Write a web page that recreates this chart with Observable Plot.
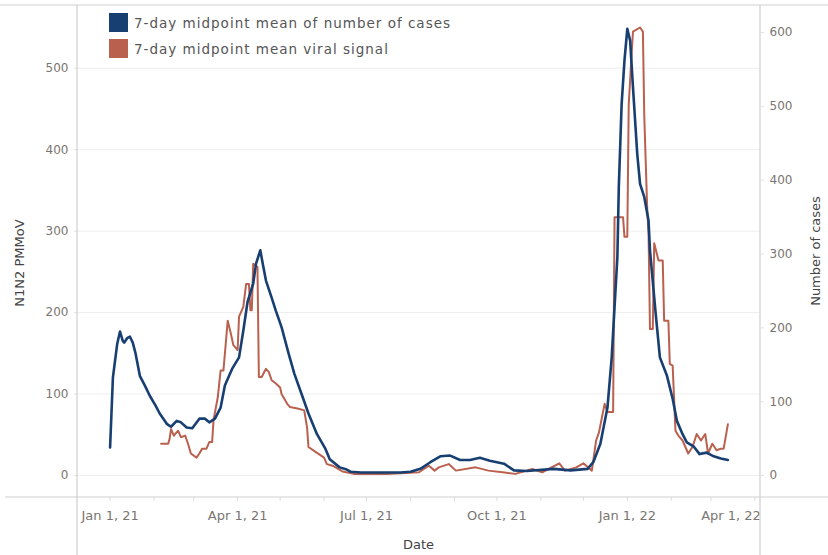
<!DOCTYPE html>
<html><head><meta charset="utf-8">
<script src="https://cdn.jsdelivr.net/npm/d3@7"></script>
<script src="https://cdn.jsdelivr.net/npm/@observablehq/plot@0.6"></script>
<style>
body{margin:0;background:#fff;}
#wrap{position:relative;width:828px;height:555px;font-family:"DejaVu Sans",sans-serif;}
#legend{position:absolute;left:109px;top:13px;font-size:13.5px;color:#555;letter-spacing:1px;}
.item{display:flex;align-items:center;height:19px;margin-bottom:7px;white-space:nowrap;}
.sw{width:19px;height:19px;margin-right:6px;flex:none;}
</style></head><body><div id="wrap"></div>
<script>
const seriesNames = ["7-day midpoint mean of number of cases", "7-day midpoint mean viral signal"];
const seriesColors = ["#173f72", "#b9604e"];
const leftTicks = [0, 100, 200, 300, 400, 500];
const rightTicks = [0, 100, 200, 300, 400, 500, 600];
const xTickDates = ["2021-01-01", "2021-04-01", "2021-07-01", "2021-10-01", "2022-01-01"];
const xLastTickDate = "2022-04-01";

const caseDates = ["2021-01-01","2021-01-03","2021-01-06","2021-01-08","2021-01-10","2021-01-11","2021-01-13","2021-01-15","2021-01-17","2021-01-19","2021-01-22","2021-01-26","2021-01-29","2021-02-02","2021-02-05","2021-02-10","2021-02-13","2021-02-17","2021-02-20","2021-02-24","2021-02-28","2021-03-05","2021-03-09","2021-03-12","2021-03-16","2021-03-20","2021-03-23","2021-03-28","2021-04-02","2021-04-05","2021-04-08","2021-04-12","2021-04-14","2021-04-17","2021-04-19","2021-04-21","2021-04-25","2021-04-28","2021-05-02","2021-05-07","2021-05-11","2021-05-16","2021-05-21","2021-05-27","2021-06-02","2021-06-05","2021-06-12","2021-06-17","2021-06-20","2021-06-27","2021-07-10","2021-07-25","2021-08-01","2021-08-08","2021-08-15","2021-08-22","2021-08-29","2021-09-05","2021-09-12","2021-09-19","2021-09-26","2021-10-06","2021-10-13","2021-10-22","2021-11-10","2021-11-22","2021-12-04","2021-12-08","2021-12-13","2021-12-18","2021-12-21","2021-12-23","2021-12-25","2021-12-26","2021-12-28","2021-12-30","2022-01-01","2022-01-03","2022-01-05","2022-01-08","2022-01-10","2022-01-13","2022-01-16","2022-01-17","2022-01-21","2022-01-24","2022-01-29","2022-02-02","2022-02-05","2022-02-09","2022-02-12","2022-02-17","2022-02-21","2022-02-26","2022-03-03","2022-03-08","2022-03-13"];
const caseValues = [38,133,178,195,182,180,186,188,180,165,135,120,108,95,84,70,66,74,72,65,64,77,77,72,77,92,122,144,160,196,235,260,287,305,284,264,241,223,201,165,138,111,84,56,36,22,11,8,5,4,4,4,5,9,18,26,27,21,21,24,20,16,7,6,9,7,9,18,43,92,160,228,296,390,503,562,605,589,526,436,395,377,345,305,220,160,135,104,74,56,45,39,29,31,26,23,21];

const signalDates = ["2021-02-06","2021-02-11","2021-02-12","2021-02-13","2021-02-15","2021-02-18","2021-02-20","2021-02-23","2021-02-25","2021-02-27","2021-03-03","2021-03-05","2021-03-07","2021-03-10","2021-03-12","2021-03-14","2021-03-15","2021-03-18","2021-03-20","2021-03-22","2021-03-25","2021-03-27","2021-03-29","2021-04-01","2021-04-02","2021-04-05","2021-04-07","2021-04-09","2021-04-10","2021-04-11","2021-04-12","2021-04-15","2021-04-16","2021-04-18","2021-04-21","2021-04-23","2021-04-25","2021-04-28","2021-05-01","2021-05-02","2021-05-06","2021-05-08","2021-05-14","2021-05-18","2021-05-20","2021-05-21","2021-05-26","2021-06-01","2021-06-03","2021-06-07","2021-06-14","2021-06-22","2021-07-15","2021-08-07","2021-08-14","2021-08-18","2021-08-21","2021-08-28","2021-09-02","2021-09-16","2021-09-25","2021-10-05","2021-10-14","2021-10-26","2021-11-02","2021-11-14","2021-11-18","2021-11-26","2021-12-01","2021-12-07","2021-12-10","2021-12-12","2021-12-16","2021-12-18","2021-12-22","2021-12-23","2021-12-29","2021-12-30","2022-01-01","2022-01-02","2022-01-04","2022-01-05","2022-01-10","2022-01-12","2022-01-13","2022-01-15","2022-01-16","2022-01-17","2022-01-19","2022-01-20","2022-01-23","2022-01-26","2022-01-27","2022-01-30","2022-01-31","2022-02-02","2022-02-04","2022-02-06","2022-02-09","2022-02-13","2022-02-16","2022-02-19","2022-02-22","2022-02-25","2022-02-27","2022-03-02","2022-03-05","2022-03-08","2022-03-10","2022-03-13"];
const signalValues = [39,39,45,57,49,55,47,49,39,27,22,27,33,33,41,41,68,96,129,129,190,176,160,154,195,207,235,235,203,203,260,256,121,121,131,127,117,113,108,100,88,84,82,80,59,35,29,22,14,12,5,2,2,4,12,6,10,14,6,10,6,4,2,8,4,15,6,10,15,6,43,53,88,78,78,317,317,293,293,455,516,545,550,545,440,330,297,180,180,285,264,264,190,190,137,135,55,49,43,27,35,51,43,51,27,39,31,33,33,63];

const parse = d3.utcParse("%Y-%m-%d");
const cases = caseDates.map((d, i) => ({date: parse(d), value: caseValues[i]}));
const signal = signalDates.map((d, i) => ({date: parse(d), value: signalValues[i]}));

const leftDomain = [-27, 577];
const rightDomain = [-29.8, 636.6];
const ratio = (leftDomain[1] - leftDomain[0]) / (rightDomain[1] - rightDomain[0]);
const toLeft = c => leftDomain[0] + (c - rightDomain[0]) * ratio;
const fromLeft = v => rightDomain[0] + (v - leftDomain[0]) / ratio;

const xDomain = [parse("2020-12-09"), parse("2022-04-05")];
const months = d3.utcMonth.range(parse("2021-01-01"), parse("2022-04-02"));
const fmt = d3.utcFormat("%b %-d, %y");
const tickGray = "#7a7570";

const chart = Plot.plot({
  width: 828, height: 555,
  marginLeft: 77, marginRight: 68, marginTop: 5, marginBottom: 58,
  style: {fontFamily: "DejaVu Sans, sans-serif", fontSize: "12px", background: "#fff"},
  x: {type: "utc", domain: xDomain},
  y: {domain: leftDomain},
  marks: [
    Plot.gridY(leftTicks, {stroke: "#eeeeee", strokeOpacity: 1}),
    Plot.axisY(leftTicks, {anchor: "left", label: null, tickSize: 3, tickPadding: 6, stroke: "#e2e2e2", fill: tickGray, fontSize: 12}),
    Plot.axisY(rightTicks.map(toLeft), {anchor: "right", label: null, tickSize: 3, tickPadding: 6, stroke: "#e2e2e2", fill: tickGray, fontSize: 12, tickFormat: v => String(Math.round(fromLeft(v)))}),
    Plot.axisX(months, {anchor: "bottom", label: null, tickSize: 4, tickFormat: () => "", stroke: "#dedede"}),
    Plot.axisX(xTickDates.map(parse), {anchor: "bottom", label: null, tickSize: 0, tickPadding: 13, tickFormat: fmt, fill: tickGray, fontSize: 13}),
    Plot.axisX([parse(xLastTickDate)], {anchor: "bottom", label: null, tickSize: 0, tickPadding: 13, tickFormat: fmt, fill: tickGray, fontSize: 13, textAnchor: "end", dx: 6}),
    Plot.line(signal, {x: "date", y: "value", stroke: seriesColors[1], strokeWidth: 2}),
    Plot.line(cases, {x: "date", y: d => toLeft(d.value), stroke: seriesColors[0], strokeWidth: 2.6})
  ]
});

const wrap = document.getElementById("wrap");
wrap.appendChild(chart);

// chrome: frame lines and axis titles
const svg = d3.select(chart);
const [x0, x1] = chart.scale("x").range;
const [yb, yt] = chart.scale("y").range;
const frame = svg.append("g").attr("stroke", "#cfcfcf").attr("stroke-width", 1.2);
frame.append("line").attr("x1", 0).attr("x2", 828).attr("y1", yt).attr("y2", yt);
frame.append("line").attr("x1", 5).attr("x2", 828).attr("y1", yb).attr("y2", yb);
frame.append("line").attr("x1", x0).attr("x2", x0).attr("y1", yt).attr("y2", 555);
frame.append("line").attr("x1", x1).attr("x2", x1).attr("y1", yt).attr("y2", 555);

const titles = svg.append("g").attr("fill", "#444").attr("font-size", 13).attr("text-anchor", "middle");
titles.append("text").attr("transform", "translate(19,263) rotate(-90)").attr("dy", "0.35em").text("N1N2 PMMoV");
titles.append("text").attr("transform", "translate(815,251) rotate(-90)").attr("dy", "0.35em").text("Number of cases");
titles.append("text").attr("x", (x0 + x1) / 2).attr("y", 544).attr("dy", "0.35em").text("Date");

// legend
const legend = document.createElement("div");
legend.id = "legend";
seriesNames.forEach((name, i) => {
  const item = document.createElement("div");
  item.className = "item";
  const sw = document.createElement("div");
  sw.className = "sw";
  sw.style.background = seriesColors[i];
  const label = document.createElement("span");
  label.textContent = name;
  item.appendChild(sw); item.appendChild(label);
  legend.appendChild(item);
});
wrap.appendChild(legend);
</script>
</body></html>
